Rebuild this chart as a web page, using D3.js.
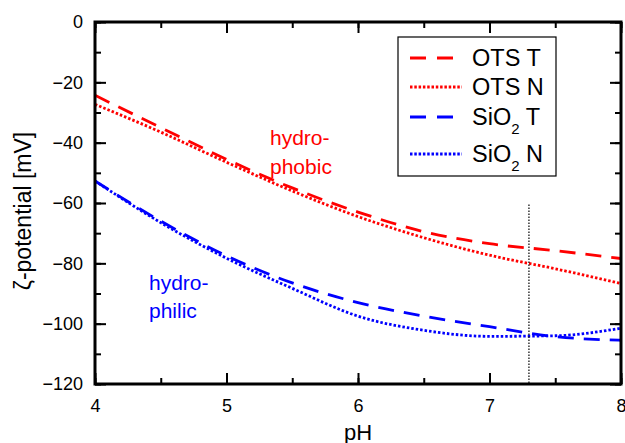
<!DOCTYPE html>
<html>
<head>
<meta charset="utf-8">
<script src="https://cdn.jsdelivr.net/npm/d3@7"></script>
<style>
  body { margin: 0; background: #fff; }
  text { font-family: "Liberation Sans", Arial, sans-serif; }
</style>
</head>
<body>
<div id="chart"></div>
<script>
// pH values where the curves were read
var pH = [4, 4.5, 5, 5.5, 6, 6.5, 7, 7.5, 8];

// zeta potential (mV) for each series
var otsT = [-24.3, -35, -45.5, -55, -63, -69.5, -73.5, -75.8, -78.4];
var otsN = [-27.3, -36.5, -46.5, -56, -64.5, -71.5, -77.3, -81.8, -86.7];
var sio2T = [-52.7, -66, -77.5, -86.5, -93, -97.5, -101, -104.3, -105.5];
var sio2N = [-52.7, -66.5, -78.3, -88.3, -97.5, -102.2, -104.2, -104, -101.5];

var xTicks = [4, 5, 6, 7, 8];
var yTicks = [0, -20, -40, -60, -80, -100, -120];

// vertical marker
var markerPH = 7.3;
var markerRange = [-60.5, -120];

var width = 625, height = 443;
var margin = { top: 22, right: 4, bottom: 59, left: 95 };
var innerWidth = width - margin.left - margin.right;
var innerHeight = height - margin.top - margin.bottom;

var svg = d3.select("#chart").append("svg")
  .attr("width", width)
  .attr("height", height);

var g = svg.append("g")
  .attr("transform", `translate(${margin.left}, ${margin.top})`);

var x = d3.scaleLinear().domain([4, 8]).range([0, innerWidth]);
var y = d3.scaleLinear().domain([0, -120]).range([0, innerHeight]);

// series definitions
var series = [
  { name: "OTS T", sub: null, values: otsT, color: "#ff0000", dash: "16,10" },
  { name: "OTS N", sub: null, values: otsN, color: "#ff0000", dash: "2.5,2" },
  { name: "SiO", sub: "2", tail: " T", values: sio2T, color: "#0000ff", dash: "16,10" },
  { name: "SiO", sub: "2", tail: " N", values: sio2N, color: "#0000ff", dash: "2.5,2" }
];

var line = d3.line()
  .x((d, i) => x(pH[i]))
  .y(d => y(d))
  .curve(d3.curveMonotoneX);

g.append("clipPath").attr("id", "clip")
  .append("rect").attr("width", innerWidth).attr("height", innerHeight);

var plot = g.append("g").attr("clip-path", "url(#clip)");

series.forEach(function (s) {
  plot.append("path")
    .datum(s.values)
    .attr("fill", "none")
    .attr("stroke", s.color)
    .attr("stroke-width", 2.8)
    .attr("stroke-dasharray", s.dash)
    .attr("d", line);
});

// dotted vertical marker
plot.append("line")
  .attr("x1", x(markerPH)).attr("x2", x(markerPH))
  .attr("y1", y(markerRange[0])).attr("y2", y(markerRange[1]))
  .attr("stroke", "black")
  .attr("stroke-width", 1.2)
  .attr("stroke-dasharray", "1.5,1.5");

// axes with inward ticks on all four sides
function styleAxis(sel) {
  sel.select(".domain").remove();
  sel.selectAll("line").attr("stroke", "black").attr("stroke-width", 2);
  sel.selectAll("text").attr("fill", "black").style("font-size", "18px");
}

var xMinor = d3.range(4, 8.01, 0.5);
var yMinor = d3.range(0, -120.1, -10);

var bottomMinor = g.append("g").attr("transform", `translate(0, ${innerHeight})`)
  .call(d3.axisBottom(x).tickValues(xMinor).tickSize(-6).tickFormat(""));
styleAxis(bottomMinor);
var bottom = g.append("g").attr("transform", `translate(0, ${innerHeight})`)
  .call(d3.axisBottom(x).tickValues(xTicks).tickSize(-11).tickPadding(15).tickFormat(d3.format("d")));
styleAxis(bottom);

var topMinor = g.append("g")
  .call(d3.axisTop(x).tickValues(xMinor).tickSize(-6).tickFormat(""));
styleAxis(topMinor);
var topAx = g.append("g")
  .call(d3.axisTop(x).tickValues(xTicks).tickSize(-11).tickFormat(""));
styleAxis(topAx);

var leftMinor = g.append("g")
  .call(d3.axisLeft(y).tickValues(yMinor).tickSize(-6).tickFormat(""));
styleAxis(leftMinor);
var left = g.append("g")
  .call(d3.axisLeft(y).tickValues(yTicks).tickSize(-11).tickPadding(12).tickFormat(d3.format("d")));
styleAxis(left);

var rightMinor = g.append("g").attr("transform", `translate(${innerWidth}, 0)`)
  .call(d3.axisRight(y).tickValues(yMinor).tickSize(-6).tickFormat(""));
styleAxis(rightMinor);
var rightAx = g.append("g").attr("transform", `translate(${innerWidth}, 0)`)
  .call(d3.axisRight(y).tickValues(yTicks).tickSize(-11).tickFormat(""));
styleAxis(rightAx);

// frame
g.append("rect")
  .attr("width", innerWidth)
  .attr("height", innerHeight)
  .attr("fill", "none")
  .attr("stroke", "black")
  .attr("stroke-width", 3);

// axis titles
g.append("text")
  .attr("x", innerWidth / 2)
  .attr("y", innerHeight + 56)
  .attr("text-anchor", "middle")
  .style("font-size", "22px")
  .text("pH");

g.append("text")
  .attr("transform", "rotate(-90)")
  .attr("x", -innerHeight / 2 - 8)
  .attr("y", -margin.left + 31)
  .attr("text-anchor", "middle")
  .style("font-size", "23px")
  .text("ζ-potential [mV]");

// annotations
var phobic = g.append("text").attr("fill", "#ff0000").style("font-size", "21px");
phobic.append("tspan").attr("x", 175).attr("y", 123).text("hydro-");
phobic.append("tspan").attr("x", 175).attr("y", 152).text("phobic");

var philic = g.append("text").attr("fill", "#0000ff").style("font-size", "21px");
philic.append("tspan").attr("x", 54).attr("y", 268).text("hydro-");
philic.append("tspan").attr("x", 54).attr("y", 296).text("philic");

// legend
var legend = g.append("g").attr("transform", "translate(303, 15)");
legend.append("rect")
  .attr("width", 158)
  .attr("height", 139)
  .attr("fill", "white")
  .attr("stroke", "black")
  .attr("stroke-width", 1.2);

var rowY = [21, 50, 80, 117];
series.forEach(function (s, i) {
  var ry = rowY[i];
  legend.append("line")
    .attr("x1", 12).attr("x2", 64)
    .attr("y1", ry).attr("y2", ry)
    .attr("stroke", s.color)
    .attr("stroke-width", 2.8)
    .attr("stroke-dasharray", s.dash == "16,10" ? "16,11" : "2.5,1.8");
  var t = legend.append("text")
    .attr("x", 74)
    .attr("y", ry + 8)
    .style("font-size", "23.5px");
  if (s.sub) {
    t.append("tspan").text(s.name);
    t.append("tspan").attr("dy", 9).style("font-size", "15px").text(s.sub);
    t.append("tspan").attr("dy", -9).text(s.tail);
  } else {
    t.text(s.name);
  }
});
</script>
</body>
</html>
